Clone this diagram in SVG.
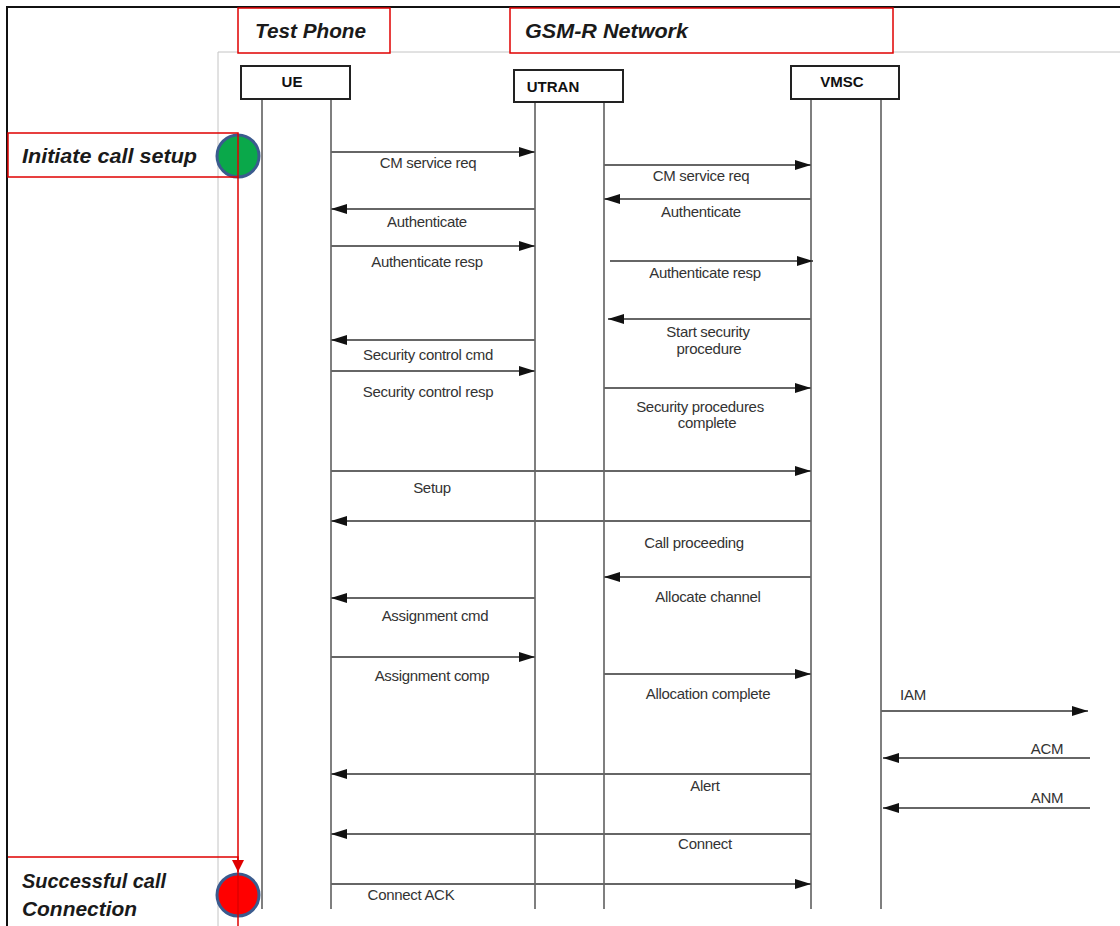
<svg xmlns="http://www.w3.org/2000/svg" width="1120" height="926" viewBox="0 0 1120 926">
<style>
.frame{fill:none;stroke:#c4c4c4;stroke-width:1}
.outer{fill:none;stroke:#111;stroke-width:2}
.redbox{fill:#fff;stroke:#e00000;stroke-width:1.5}
.title{font-family:"Liberation Sans",Arial,sans-serif;font-weight:bold;font-style:italic;font-size:21px;fill:#1a1a1a}
.ent{fill:#fff;stroke:#222;stroke-width:2}
.entt{font-family:"Liberation Sans",Arial,sans-serif;font-weight:bold;font-size:15px;fill:#111;text-anchor:middle}
.life{stroke:#555;stroke-width:1.5}
.msg{stroke:#666;stroke-width:2;fill:none;marker-end:url(#ah)}
.lbl{font-family:"Liberation Sans",Arial,sans-serif;font-size:15px;fill:#333;text-anchor:middle;letter-spacing:-0.3px}
.red{stroke:#e00000;stroke-width:1.5;fill:none}
</style>
<defs>
<marker id="ah" viewBox="0 0 16 10" refX="16" refY="5" markerWidth="16" markerHeight="10" markerUnits="userSpaceOnUse" orient="auto">
<path d="M0,0 L16,5 L0,10 z" fill="#111"/>
</marker>
<marker id="rah" viewBox="0 0 12 12" refX="12" refY="6" markerWidth="12" markerHeight="12" markerUnits="userSpaceOnUse" orient="auto">
<path d="M0,0 L12,6 L0,12 z" fill="#e00000"/>
</marker>
</defs>
<rect width="1120" height="926" fill="#fff"/>
<path class="outer" d="M7,940 L7,7 L1125,7"/>
<path class="frame" d="M218,940 L218,52 L1125,52"/>

<g id="title-test-phone">
<rect class="redbox" x="238" y="8" width="152" height="45"/>
<text class="title" x="255" y="38" textLength="111" lengthAdjust="spacingAndGlyphs">Test Phone</text>
</g>
<g id="title-gsmr">
<rect class="redbox" x="510" y="8" width="383" height="45"/>
<text class="title" x="525" y="38" textLength="163" lengthAdjust="spacingAndGlyphs">GSM-R Network</text>
</g>

<g id="ue">
<line class="life" x1="262" y1="99" x2="262" y2="909"/>
<line class="life" x1="331" y1="99" x2="331" y2="909"/>
<rect class="ent" x="241" y="66" width="109" height="33"/>
<text class="entt" x="292" y="87">UE</text>
</g>
<g id="utran">
<line class="life" x1="535" y1="102" x2="535" y2="909"/>
<line class="life" x1="604" y1="102" x2="604" y2="909"/>
<rect class="ent" x="514" y="70" width="109" height="32"/>
<text class="entt" x="553" y="92">UTRAN</text>
</g>
<g id="vmsc">
<line class="life" x1="811" y1="99" x2="811" y2="909"/>
<line class="life" x1="881" y1="99" x2="881" y2="909"/>
<rect class="ent" x="791" y="66" width="108" height="33"/>
<text class="entt" x="842" y="87">VMSC</text>
</g>

<g id="start-marker">
<circle cx="238" cy="156" r="21" fill="#0aa84a" stroke="#3b5b8e" stroke-width="3"/>
</g>
<g id="end-marker">
<circle cx="238" cy="895" r="21" fill="#ff0000" stroke="#3b5b8e" stroke-width="3"/>
</g>
<g id="initiate-call-setup">
<rect class="red" x="8" y="133" width="230" height="44"/>
<text class="title" x="22" y="163" textLength="175" lengthAdjust="spacingAndGlyphs">Initiate call setup</text>
</g>
<g id="successful-call">
<path class="red" d="M238,940 L238,857 L8,857"/>
<text class="title" x="22" y="888" textLength="144" lengthAdjust="spacingAndGlyphs">Successful call</text>
<text class="title" x="22" y="916" textLength="115" lengthAdjust="spacingAndGlyphs">Connection</text>
</g>

<g id="connectors">
<line class="red" x1="238" y1="177" x2="238" y2="872" marker-end="url(#rah)"/>
<line class="msg" x1="331" y1="152" x2="535" y2="152"/>
<line class="msg" x1="604" y1="165" x2="811" y2="165"/>
<line class="msg" x1="811" y1="199" x2="604" y2="199"/>
<line class="msg" x1="535" y1="209" x2="331" y2="209"/>
<line class="msg" x1="331" y1="246" x2="535" y2="246"/>
<line class="msg" x1="610" y1="261" x2="813" y2="261"/>
<line class="msg" x1="811" y1="319" x2="608" y2="319"/>
<line class="msg" x1="535" y1="340" x2="331" y2="340"/>
<line class="msg" x1="331" y1="371" x2="535" y2="371"/>
<line class="msg" x1="604" y1="388" x2="811" y2="388"/>
<line class="msg" x1="331" y1="471" x2="811" y2="471"/>
<line class="msg" x1="811" y1="521" x2="331" y2="521"/>
<line class="msg" x1="811" y1="577" x2="604" y2="577"/>
<line class="msg" x1="535" y1="598" x2="331" y2="598"/>
<line class="msg" x1="331" y1="657" x2="535" y2="657"/>
<line class="msg" x1="604" y1="674" x2="811" y2="674"/>
<line class="msg" x1="881" y1="711" x2="1088" y2="711"/>
<line class="msg" x1="1090" y1="758" x2="883" y2="758"/>
<line class="msg" x1="811" y1="774" x2="331" y2="774"/>
<line class="msg" x1="1090" y1="808" x2="883" y2="808"/>
<line class="msg" x1="811" y1="834" x2="331" y2="834"/>
<line class="msg" x1="331" y1="884" x2="811" y2="884"/>

<text class="lbl" x="428" y="168">CM service req</text>
<text class="lbl" x="701" y="181">CM service req</text>
<text class="lbl" x="701" y="217">Authenticate</text>
<text class="lbl" x="427" y="227">Authenticate</text>
<text class="lbl" x="427" y="267">Authenticate resp</text>
<text class="lbl" x="705" y="278">Authenticate resp</text>
<text class="lbl" x="708" y="337">Start security</text>
<text class="lbl" x="709" y="354">procedure</text>
<text class="lbl" x="428" y="360">Security control cmd</text>
<text class="lbl" x="428" y="397">Security control resp</text>
<text class="lbl" x="700" y="412">Security procedures</text>
<text class="lbl" x="707" y="428">complete</text>
<text class="lbl" x="432" y="493">Setup</text>
<text class="lbl" x="694" y="548">Call proceeding</text>
<text class="lbl" x="708" y="602">Allocate channel</text>
<text class="lbl" x="435" y="621">Assignment cmd</text>
<text class="lbl" x="432" y="681">Assignment comp</text>
<text class="lbl" x="708" y="699">Allocation complete</text>
<text class="lbl" x="913" y="700">IAM</text>
<text class="lbl" x="1047" y="754">ACM</text>
<text class="lbl" x="705" y="791">Alert</text>
<text class="lbl" x="1047" y="803">ANM</text>
<text class="lbl" x="705" y="849">Connect</text>
<text class="lbl" x="411" y="900">Connect ACK</text>
</g>
</svg>
